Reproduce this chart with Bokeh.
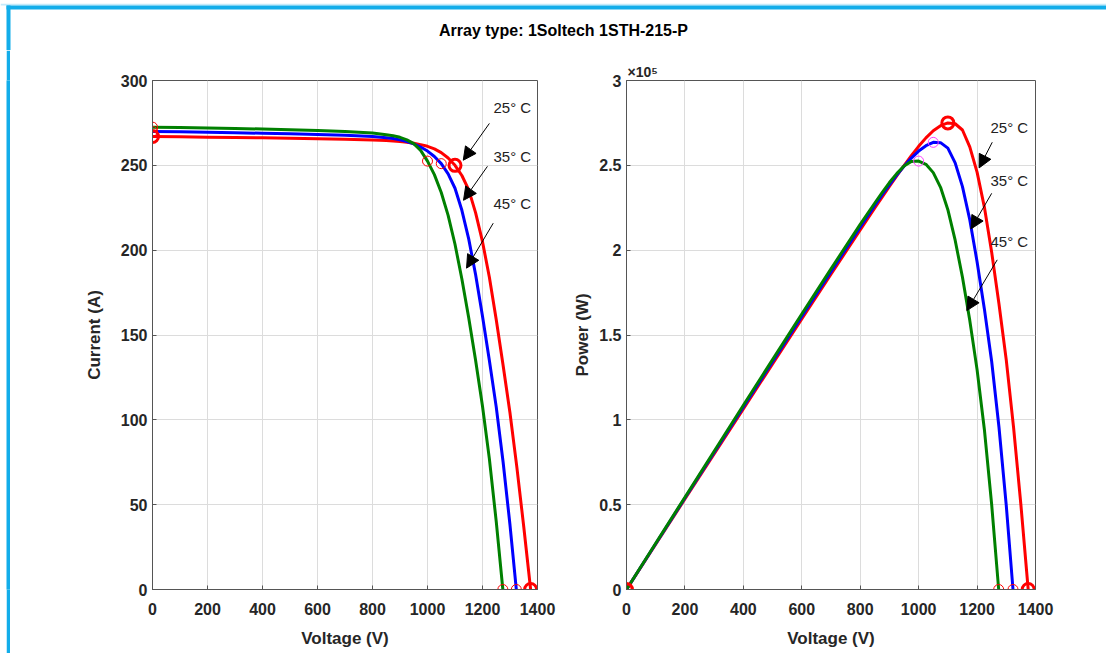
import math
from bokeh.plotting import figure
from bokeh.layouts import row, column
from bokeh.models import Label, Arrow, NormalHead, FixedTicker, CustomJSTickFormatter, Range1d, Spacer
from bokeh.embed import file_html
from bokeh.resources import INLINE

# ---------------- data ----------------
title_text = "Array type: 1Soltech 1STH-215-P"
temp_labels = ["25° C", "35° C", "45° C"]
colors = ["#ff0000", "#0000ff", "#008000"]

v_25 = [0, 100, 200, 300, 400, 500, 600, 700, 800, 850, 900, 925, 950, 975, 1000, 1025, 1050, 1075, 1100,
        1125, 1150, 1175, 1200, 1225, 1250, 1275, 1300, 1325, 1350, 1375]
i_25 = [267.0, 266.8, 266.6, 266.4, 266.2, 266.0, 265.7, 265.4, 265.0, 264.6, 264.0, 263.6, 263.0, 262.2, 261.2,
        259.7, 257.5, 254.3, 250.0, 244.0, 235.5, 222.0, 205.0, 184.0, 159.0, 132.0, 104.0, 72.0, 37.0, 0.0]
p_25 = [0, 26680, 53320, 79920, 106480, 133000, 159420, 185780, 212000, 224910, 237600, 243830, 249850, 255645,
        261200, 266193, 270375, 273373, 275000, 274500, 270825, 260850, 246000, 225400, 198750, 168300, 135200,
        95400, 49950, 0]

v_35 = [0, 100, 200, 300, 400, 500, 600, 700, 800, 850, 875, 900, 925, 950, 975, 1000, 1025, 1050, 1075, 1100,
        1125, 1150, 1175, 1200, 1225, 1250, 1275, 1300, 1323]
i_35 = [270.0, 269.8, 269.5, 269.2, 268.9, 268.6, 268.2, 267.7, 267.0, 266.3, 265.8, 265.0, 264.0, 262.6, 260.8,
        258.4, 255.2, 251.0, 245.0, 236.5, 223.5, 206.5, 185.5, 161.0, 135.0, 107.5, 75.0, 38.0, 0.0]
p_35 = [0, 26980, 53900, 80760, 107560, 134300, 160920, 187390, 213600, 226355, 232575, 238500, 244200, 249470,
        254280, 258400, 261580, 263550, 263375, 260150, 251438, 237475, 217963, 193200, 165375, 134375, 95625,
        49400, 0]

v_45 = [0, 100, 200, 300, 400, 500, 600, 700, 800, 850, 875, 900, 925, 950, 975, 1000, 1025, 1050, 1075, 1100,
        1125, 1150, 1175, 1200, 1225, 1250, 1274]
i_45 = [272.5, 272.3, 272.0, 271.7, 271.4, 271.0, 270.6, 270.0, 269.0, 268.0, 267.4, 266.5, 265.0, 262.8, 258.8,
        252.5, 244.5, 234.0, 220.5, 203.5, 183.0, 160.0, 135.0, 108.0, 77.0, 40.0, 0.0]
p_45 = [0, 27230, 54400, 81510, 108560, 135500, 162360, 189000, 215200, 227800, 233975, 239850, 245125, 249660,
        252330, 252500, 250613, 245700, 237038, 223850, 205875, 184000, 158625, 129600, 94325, 50000, 0]

x_ticks = [0, 200, 400, 600, 800, 1000, 1200, 1400]
i_ticks = [0, 50, 100, 150, 200, 250, 300]
p_ticks = [0, 50000, 100000, 150000, 200000, 250000, 300000]

series = [(v_25, i_25, p_25), (v_35, i_35, p_35), (v_45, i_45, p_45)]

# annotation positions (data units)
left_text_pos = [(1240, 284), (1240, 255.3), (1240, 227.6)]
left_arrows = [((1225, 274.7), (1130, 253)), ((1218, 249.4), (1131, 229.4)), ((1239, 215.9), (1142, 189.4))]
right_text_pos = [(1246, 272200), (1246, 241000), (1246, 205100)]
right_arrows = [((1252, 263600), (1207, 248500)), ((1250, 233500), (1179, 212500)), ((1269, 194300), (1165, 164400))]

FONT = "Liberation Sans"
AX = "#555555"
BLUE_BORDER = "#12ADEA"
HALO = "#c4eafa"


def style(p):
    p.outline_line_color = AX
    p.outline_line_width = 1
    p.background_fill_color = "white"
    p.border_fill_color = "white"
    for ax in p.axis:
        ax.axis_line_color = AX
        ax.major_tick_line_color = AX
        ax.major_tick_in = 4
        ax.major_tick_out = 0
        ax.minor_tick_line_color = None
        ax.major_label_text_font = FONT
        ax.major_label_text_font_style = "bold"
        ax.major_label_text_font_size = "16px"
        ax.major_label_text_color = "#262626"
        ax.axis_label_text_font = FONT
        ax.axis_label_text_font_style = "bold"
        ax.axis_label_text_font_size = "17px"
        ax.axis_label_text_color = "#262626"
    p.xaxis.major_label_standoff = 13
    p.yaxis.major_label_standoff = 5
    p.xaxis.axis_label = "Voltage (V)"
    p.xaxis.axis_label_standoff = 11
    p.xaxis.ticker = FixedTicker(ticks=x_ticks)
    p.grid.grid_line_color = "#dcdcdc"
    p.grid.grid_line_width = 1


# ---------------- header ----------------
head = figure(width=1106, height=50, x_range=Range1d(0, 1106), y_range=Range1d(0, 50),
              output_backend="svg", toolbar_location=None, min_border=0,
              x_axis_location=None, y_axis_location=None)
head.outline_line_color = None
head.grid.visible = False
head.quad(left=[0], right=[1106], bottom=[45], top=[46.7], fill_color=HALO, line_color=None)
head.quad(left=[6], right=[1106], bottom=[41], top=[45], fill_color=BLUE_BORDER, line_color=None)
head.quad(left=[6], right=[10], bottom=[0], top=[45], fill_color=BLUE_BORDER, line_color=None)
head.add_layout(Label(x=563, y=20, text=title_text, text_align="center", text_baseline="middle",
                      text_font=FONT, text_font_style="bold", text_font_size="16px", text_color="#000000"))

# ---------------- left border strip ----------------
gap = Spacer(width=6, height=603)
strip = figure(width=4, height=603, output_backend="svg", toolbar_location=None, min_border=0,
               x_axis_location=None, y_axis_location=None)
strip.outline_line_color = None
strip.grid.visible = False
strip.background_fill_color = BLUE_BORDER
strip.border_fill_color = BLUE_BORDER

# ---------------- I-V plot ----------------
p1 = figure(width=560, height=603, x_range=Range1d(0, 1400), y_range=Range1d(0, 300),
            output_backend="svg", toolbar_location=None,
            min_border_left=142, min_border_right=33, min_border_top=30, min_border_bottom=63)
style(p1)
p1.yaxis.ticker = FixedTicker(ticks=i_ticks)
p1.yaxis.axis_label = "Current (A)"
p1.yaxis.axis_label_standoff = 14
for (v, i, pw), c in zip(series, colors):
    p1.line(v, i, line_color=c, line_width=3)
for k, (v, i, pw) in enumerate(series):
    mpp = pw.index(max(pw))
    thick = (k == 0)
    p1.scatter([v[0], v[mpp], v[-1]], [i[0], i[mpp], i[-1]], marker="circle",
               size=12 if thick else 10, fill_color=None, line_color="#ff0000",
               line_width=3 if thick else 1)
for (tx, ty), ((xs, ys), (xe, ye)), t in zip(left_text_pos, left_arrows, temp_labels):
    p1.add_layout(Label(x=tx, y=ty, text=t, text_align="left", text_baseline="middle",
                        text_font=FONT, text_font_size="15px", text_color="#222222"))
    p1.add_layout(Arrow(x_start=xs, y_start=ys, x_end=xe, y_end=ye, line_color="black", line_width=1,
                        end=NormalHead(size=13, fill_color="black", line_color="black")))

# ---------------- P-V plot ----------------
p2 = figure(width=536, height=603, x_range=Range1d(0, 1400), y_range=Range1d(0, 300000),
            output_backend="svg", toolbar_location=None, title="×10⁵",
            min_border_left=54, min_border_right=71, min_border_top=30, min_border_bottom=64)
style(p2)
p2.title.align = "left"
p2.title.text_font = FONT
p2.title.text_font_style = "bold"
p2.title.text_font_size = "14px"
p2.title.text_color = "#262626"
p2.title.standoff = 2
p2.title.offset = 1
p2.yaxis.ticker = FixedTicker(ticks=p_ticks)
p2.yaxis.formatter = CustomJSTickFormatter(code="return String(tick/1e5);")
p2.yaxis.axis_label = "Power (W)"
p2.yaxis.axis_label_standoff = 4
for (v, i, pw), c in zip(series, colors):
    p2.line(v, pw, line_color=c, line_width=3)
for k, (v, i, pw) in enumerate(series):
    mpp = pw.index(max(pw))
    thick = (k == 0)
    p2.scatter([v[0], v[-1]], [pw[0], pw[-1]], marker="circle",
               size=12 if thick else 10, fill_color=None, line_color="#ff0000",
               line_width=3 if thick else 1)
    p2.scatter([v[mpp]], [pw[mpp]], marker="circle", size=12 if thick else 10, fill_color=None,
               line_color="#ff0000" if thick else "#ff40ff", line_width=3 if thick else 1)
for (tx, ty), ((xs, ys), (xe, ye)), t in zip(right_text_pos, right_arrows, temp_labels):
    p2.add_layout(Label(x=tx, y=ty, text=t, text_align="left", text_baseline="middle",
                        text_font=FONT, text_font_size="15px", text_color="#222222"))
    p2.add_layout(Arrow(x_start=xs, y_start=ys, x_end=xe, y_end=ye, line_color="black", line_width=1,
                        end=NormalHead(size=13, fill_color="black", line_color="black")))

layout = column(head, row(gap, strip, p1, p2, spacing=0), spacing=0)
open("out.html", "w").write(file_html(layout, INLINE))
